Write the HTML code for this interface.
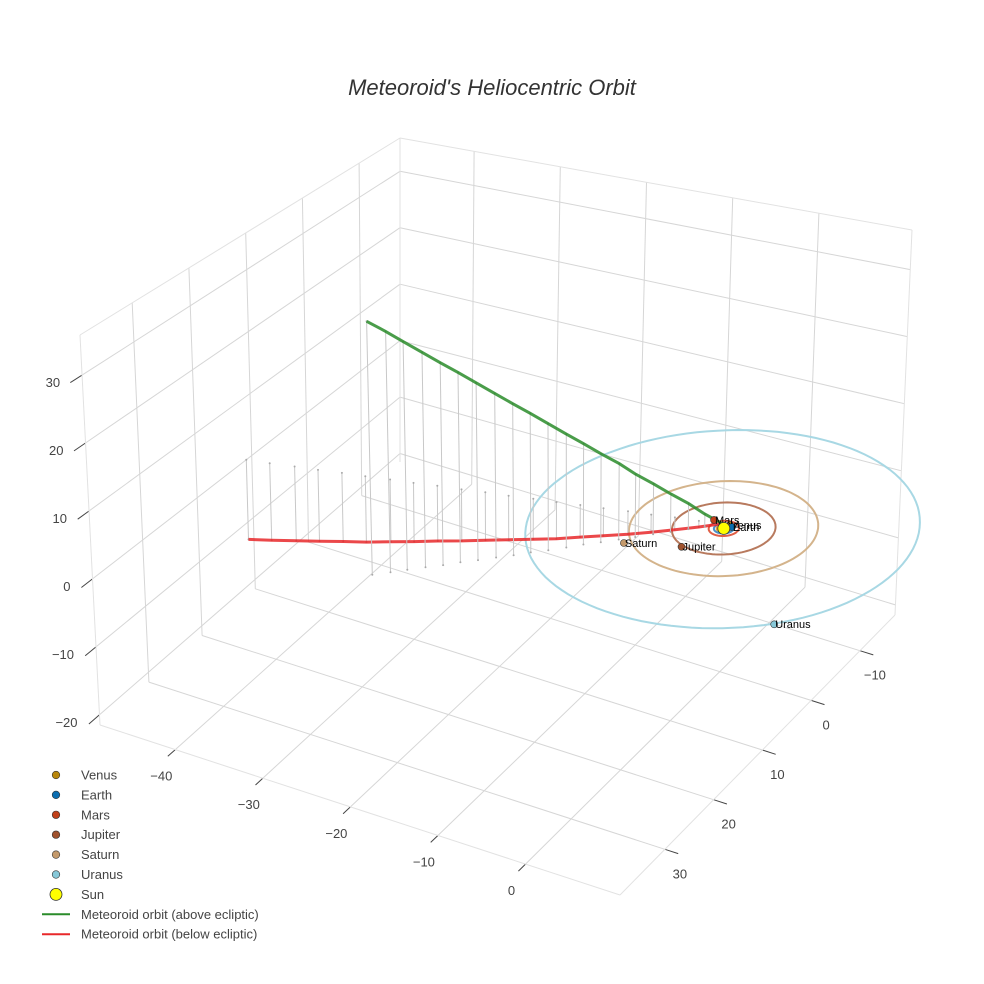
<!DOCTYPE html>
<html><head><meta charset="utf-8"><style>
html,body{margin:0;padding:0;background:#fff;}
svg{display:block;font-family:"Liberation Sans",sans-serif;}
</style></head><body>
<svg id="chart" width="984" height="984" viewBox="0 0 984 984">
<rect width="984" height="984" fill="#fff"/>
<text x="492" y="95" text-anchor="middle" font-size="22" font-style="italic" fill="#333">Meteoroid's Heliocentric Orbit</text>
<g id="grid"></g>
<g id="orbits"></g>
<g id="meteor"></g>
<g id="planets"></g>
<g id="legend"></g>
</svg>
<script>
const xTicks=[-40,-30,-20,-10,0];
const yTicks=[-10,0,10,20,30];
const zTicks=[-20,-10,0,10,20,30];
const planetNames=["Venus","Earth","Mars","Jupiter","Saturn","Uranus"];
const planetX=[0.6,0.98,-1.36,-1.5,-7.0,14.5];
const planetY=[-0.45,-0.2,-0.62,5.5,7.5,14.5];
const planetZ=[-0.3,-0.3,-0.3,-0.3,-0.3,-0.3];
const orbitRadius=[0.72,1.0,1.52,5.2,9.5,19.8];
const planetColors=["#b8860b","#0b6db0","#c0401a","#a0522d","#c49a6c","#87c8d8"];
const orbitColors=["#e8a040","#4a90c8","#e06048","#b87a5e","#d4b48c","#a8d8e4"];
const aboveX=[-25.4,-24.1,-22.9,-21.6,-20.3,-19.1,-17.8,-16.5,-15.2,-14.0,-12.7,-11.4,-10.2,-8.9,-7.6,-6.4,-5.1,-3.8,-2.5,-1.3,0];
const aboveY=[25.1,23.8,22.6,21.3,20.1,18.8,17.6,16.3,15.1,13.8,12.6,11.3,10.0,8.8,7.5,6.3,5.0,3.8,2.5,1.3,0];
const aboveZ=[36.5,34.7,32.9,31.0,29.2,27.4,25.6,23.7,21.9,20.1,18.3,16.4,14.6,12.8,11.0,9.1,7.3,5.5,3.7,1.8,0];
const belowX=[-48.6,-46.2,-43.7,-41.3,-38.9,-36.5,-34.0,-31.6,-29.2,-26.7,-24.3,-21.9,-19.4,-17.0,-14.6,-12.2,-9.7,-7.3,-4.9,-2.4,0];
const belowY=[11,10.5,9.9,9.4,8.8,8.3,7.7,7.2,6.6,6.1,5.5,5.0,4.4,3.9,3.3,2.8,2.2,1.7,1.1,0.6,0];
const belowZ=[-12.8,-12.3,-11.8,-11.3,-10.8,-10.3,-9.7,-9.1,-8.5,-7.9,-7.3,-6.7,-6.1,-5.5,-4.8,-4.1,-3.4,-2.6,-1.8,-0.9,0];

const XR=[-48.6,10.8],YR=[-17.2,39.2],ZR=[-21.5,35.9];
const C={back:[[400,462],[400,138]],right:[[895,615],[912,230]],left:[[100,725],[80,335]],front:[[620,895],[615,440]]};
function L(a,b,t){return [a[0]+(b[0]-a[0])*t,a[1]+(b[1]-a[1])*t];}
function P(x,y,z){
  const u=(x-XR[0])/(XR[1]-XR[0]),v=(y-YR[0])/(YR[1]-YR[0]),w=(z-ZR[0])/(ZR[1]-ZR[0]);
  const k=i=>L(L(C.back[i],C.right[i],u),L(C.left[i],C.front[i],u),v);
  return L(k(0),k(1),w);
}
const NS="http://www.w3.org/2000/svg";
function mk(tag,attrs,parent){const e=document.createElementNS(NS,tag);for(const k in attrs)e.setAttribute(k,attrs[k]);parent.appendChild(e);return e;}
function line(a,b,st,w,par){return mk("line",{x1:a[0].toFixed(1),y1:a[1].toFixed(1),x2:b[0].toFixed(1),y2:b[1].toFixed(1),stroke:st,"stroke-width":w},par);}
const grid=document.getElementById("grid");
const gc="#d6d6d6";
xTicks.forEach(x=>{
  let e=line(P(x,YR[0],ZR[0]),P(x,YR[1],ZR[0]),gc,1,grid);
  
  
  e=line(P(x,YR[0],ZR[0]),P(x,YR[0],ZR[1]),gc,1,grid);
  
  
  const r=P(x,YR[1],ZR[0]),q=P(x,YR[1]-5,ZR[0]);const d=Math.hypot(r[0]-q[0],r[1]-q[1]);
  e=line(r,[r[0]+(r[0]-q[0])/d*10,r[1]+(r[1]-q[1])/d*10],"#444",1,grid);
  
  
  const t=mk("text",{x:(r[0]-14).toFixed(1),y:(r[1]+31).toFixed(1),"text-anchor":"middle","font-size":"13",fill:"#444"},grid);
  t.textContent=(x<0?"\u2212":"")+Math.abs(x);
  
  
});
yTicks.forEach(y=>{
  let e=line(P(XR[0],y,ZR[0]),P(XR[1],y,ZR[0]),gc,1,grid);
  
  
  e=line(P(XR[0],y,ZR[0]),P(XR[0],y,ZR[1]),gc,1,grid);
  
  
  const r=P(XR[1],y,ZR[0]),q=P(XR[1]-5,y,ZR[0]);const d=Math.hypot(r[0]-q[0],r[1]-q[1]);
  e=line(r,[r[0]+(r[0]-q[0])/d*14,r[1]+(r[1]-q[1])/d*14],"#444",1,grid);
  
  
  const t=mk("text",{x:(r[0]+15).toFixed(1),y:(r[1]+29).toFixed(1),"text-anchor":"middle","font-size":"13",fill:"#444"},grid);
  t.textContent=(y<0?"\u2212":"")+Math.abs(y);
  
  
});
zTicks.forEach(z=>{
  let e=line(P(XR[0],YR[0],z),P(XR[0],YR[1],z),gc,1,grid);
  
  
  e=line(P(XR[0],YR[0],z),P(XR[1],YR[0],z),gc,1,grid);
  
  
  const r=P(XR[0],YR[1],z),q=P(XR[0],YR[1]-5,z);const d=Math.hypot(r[0]-q[0],r[1]-q[1]);
  e=line(r,[r[0]+(r[0]-q[0])/d*14,r[1]+(r[1]-q[1])/d*14],"#444",1,grid);
  
  
  const t=mk("text",{x:(r[0]-22).toFixed(1),y:(r[1]+12).toFixed(1),"text-anchor":"end","font-size":"13",fill:"#444"},grid);
  t.textContent=(z<0?"\u2212":"")+Math.abs(z);
  
  
});
[[[XR[0],YR[0],ZR[1]],[XR[1],YR[0],ZR[1]]],[[XR[0],YR[0],ZR[1]],[XR[0],YR[1],ZR[1]]],[[XR[1],YR[0],ZR[0]],[XR[1],YR[0],ZR[1]]],[[XR[0],YR[1],ZR[0]],[XR[0],YR[1],ZR[1]]],[[XR[0],YR[0],ZR[0]],[XR[0],YR[0],ZR[1]]],[[XR[0],YR[1],ZR[0]],[XR[1],YR[1],ZR[0]]],[[XR[1],YR[0],ZR[0]],[XR[1],YR[1],ZR[0]]]].forEach(s=>{
  const e=line(P(...s[0]),P(...s[1]),"#e2e2e2",1,grid);
  
  
});
const og=document.getElementById("orbits");
orbitRadius.forEach((r,i)=>{
  let pts=[];for(let k=0;k<=120;k++){const a=k/120*2*Math.PI;const p=P(r*Math.cos(a)+0.4,r*Math.sin(a)+0.4,-0.3);pts.push(p[0].toFixed(1)+","+p[1].toFixed(1));}
  const e=mk("polyline",{points:pts.join(" "),fill:"none",stroke:orbitColors[i],"stroke-width":2},og);
  
  
});
const mg=document.getElementById("meteor");
function path(X,Y,Z,col,name){
  X.forEach((x,i)=>{
    const a=P(x,Y[i],Z[i]),b=P(x,Y[i],0);
    const e=line(a,b,"#c8c8c8",1,mg);
    
    
    [a,b].forEach(p=>{const c=mk("circle",{cx:p[0].toFixed(1),cy:p[1].toFixed(1),r:1,fill:"#aaa"},mg);
      
      });
  });
  const pts=X.map((x,i)=>{const p=P(x,Y[i],Z[i]);return p[0].toFixed(1)+","+p[1].toFixed(1);}).join(" ");
  const e=mk("polyline",{points:pts,fill:"none",stroke:col,"stroke-width":3,"stroke-opacity":0.85},mg);
  
  
}
path(belowX,belowY,belowZ,"#e8282a","orbit-below-ecliptic");
path(aboveX,aboveY,aboveZ,"#2a8c2a","orbit-above-ecliptic");
const pg=document.getElementById("planets");
planetNames.forEach((n,i)=>{
  const p=P(planetX[i],planetY[i],planetZ[i]);
  const c=mk("circle",{cx:p[0].toFixed(1),cy:p[1].toFixed(1),r:3.5,fill:planetColors[i],stroke:"#333","stroke-width":0.6},pg);
  
  
  const t=mk("text",{x:(p[0]+1).toFixed(1),y:(p[1]+1).toFixed(1),"font-size":"11",fill:"#000","dominant-baseline":"middle"},pg);
  t.textContent=n;
  
  
});
const sp=P(0.4,0.4,-0.3);
const sun=mk("circle",{cx:sp[0].toFixed(1),cy:sp[1].toFixed(1),r:6,fill:"#ffff00",stroke:"#333","stroke-width":0.8},pg);


const lg=document.getElementById("legend");
const legNames=planetNames.concat(["Sun","Meteoroid orbit (above ecliptic)","Meteoroid orbit (below ecliptic)"]);
legNames.forEach((n,i)=>{
  const y=775+i*19.9;
  let m;
  if(i<6){m=mk("circle",{cx:56,cy:y,r:3.8,fill:planetColors[i],stroke:"#333","stroke-width":0.6},lg);}
  else if(i===6){m=mk("circle",{cx:56,cy:y,r:6,fill:"#ffff00",stroke:"#333","stroke-width":0.8},lg);}
  else{m=mk("line",{x1:42,y1:y,x2:70,y2:y,stroke:i===7?"#2a8c2a":"#e8282a","stroke-width":2},lg);}
  
  
  const t=mk("text",{x:81,y:y+4.5,"font-size":"13",fill:"#444"},lg);
  t.textContent=n;
  
  
});
</script>
</body></html>
